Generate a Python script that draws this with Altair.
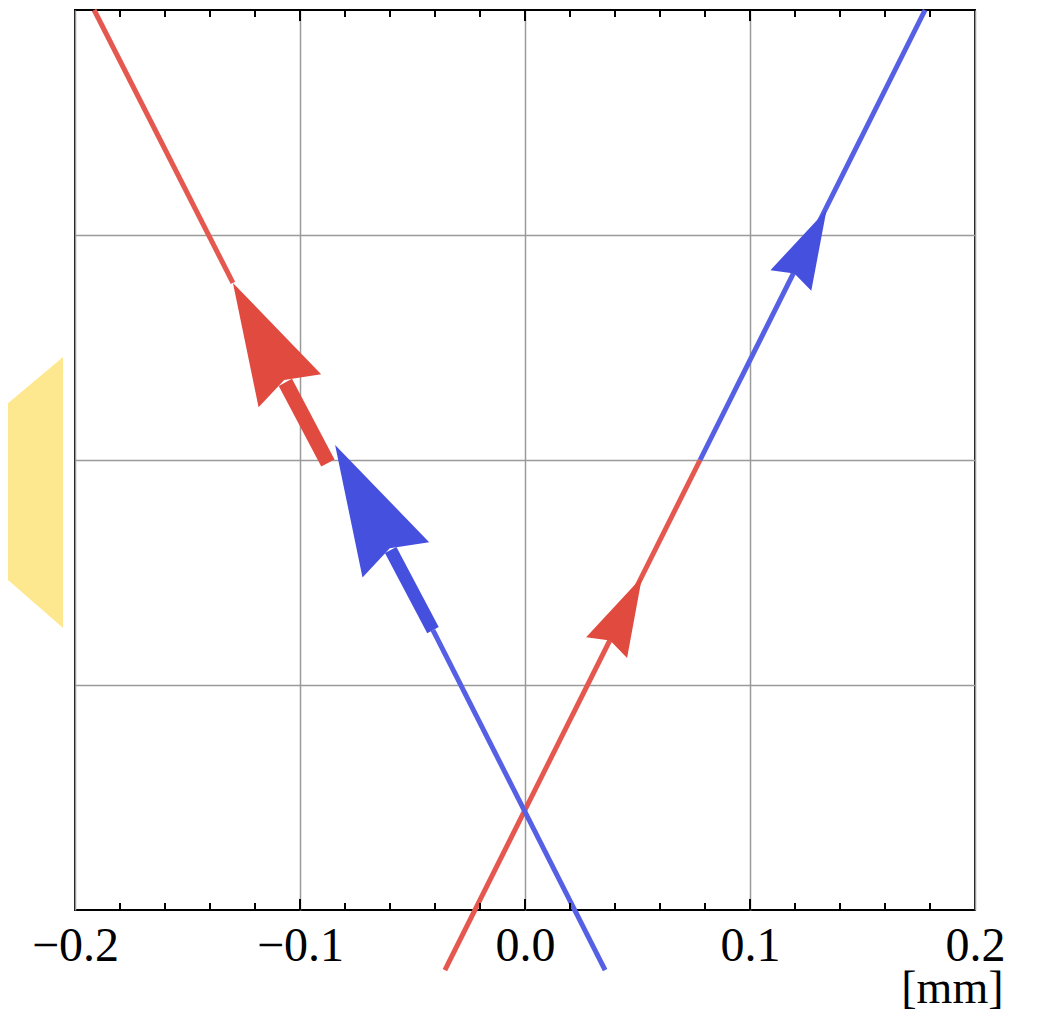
import math
import altair as alt
import pandas as pd

# ---------------- data (values in mm) ----------------
x_tick_labels = [-0.2, -0.1, 0.0, 0.1, 0.2]
x_major_ticks = [-0.1, 0.0, 0.1]
x_minor_ticks = [-0.18, -0.16, -0.14, -0.12, -0.08, -0.06, -0.04, -0.02,
                 0.02, 0.04, 0.06, 0.08, 0.12, 0.14, 0.16, 0.18]
y_grid = [0.1, 0.2, 0.3]

# thin beam segments
beam_names = ["red_in", "blue_out", "blue_in", "red_out"]
beam_x0 = [-0.0356, 0.0778, 0.0356, -0.1298]
beam_y0 = [-0.0267, 0.2000, -0.0267, 0.2787]
beam_x1 = [0.0778, 0.1778, -0.0409, -0.1915]
beam_y1 = [0.2000, 0.4000, 0.1244, 0.4000]
beam_col = ["red", "blue", "blue", "red"]

# thick arrow shafts
shaft_names = ["red", "blue"]
shaft_tail_x = [-0.0876, -0.0409]
shaft_tail_y = [0.1987, 0.1244]
shaft_neck_x = [-0.1065, -0.0597]
shaft_neck_y = [0.2345, 0.1600]

# arrowheads (tip, and a point behind it on the same beam)
head_names = ["red_thin", "blue_thin", "red_thick", "blue_thick"]
head_tip_x = [0.0520, 0.1340, -0.1298, -0.0844]
head_tip_y = [0.1480, 0.3111, 0.2787, 0.2067]
head_from_x = [-0.0356, 0.0778, -0.0876, -0.0409]
head_from_y = [-0.0267, 0.2000, 0.1987, 0.1244]
head_col = ["red", "blue", "red", "blue"]

# yellow lens outline (outside the frame, left)
lens_x = [-0.2333, -0.2053]
lens_y_lo = [0.1498, 0.1253]
lens_y_hi = [0.2222, 0.2458]

# ---------------- styles ----------------
LINE_COL = {"red": "#E5584F", "blue": "#5560E4"}
HEAD_COL = {"red": "#E14A3F", "blue": "#4650DF"}
HEAD_LEN = [79, 79, 122, 130]
SHAFT_W = {"red": 15, "blue": 13}
HEAD_PATH = "M0,0L0.58,2L0,1.8L-0.58,2Z"
GRID = "#9a9a9a"
FONT = "Liberation Serif"

# ---------------- tables ----------------
beam_rows = []
for i, n in enumerate(beam_names):
    beam_rows.append(dict(beam=n, i=0, x=beam_x0[i], y=beam_y0[i], c=LINE_COL[beam_col[i]]))
    beam_rows.append(dict(beam=n, i=1, x=beam_x1[i], y=beam_y1[i], c=LINE_COL[beam_col[i]]))
beams = pd.DataFrame(beam_rows)

shaft_rows = []
for i, n in enumerate(shaft_names):
    shaft_rows.append(dict(s=n, i=0, x=shaft_tail_x[i], y=shaft_tail_y[i], w=SHAFT_W[n], c=HEAD_COL[n]))
    shaft_rows.append(dict(s=n, i=1, x=shaft_neck_x[i], y=shaft_neck_y[i], w=SHAFT_W[n], c=HEAD_COL[n]))
shafts = pd.DataFrame(shaft_rows)

head_rows = []
for i, n in enumerate(head_names):
    dx = head_tip_x[i] - head_from_x[i]
    dy = head_tip_y[i] - head_from_y[i]
    ang = math.degrees(math.atan2(dx, dy)) % 360
    head_rows.append(dict(h=n, x=head_tip_x[i], y=head_tip_y[i], a=ang,
                          s=HEAD_LEN[i] ** 2, c=HEAD_COL[head_col[i]]))
heads = pd.DataFrame(head_rows)

lens = pd.DataFrame(dict(x=lens_x, lo=lens_y_lo, hi=lens_y_hi))
major = pd.DataFrame(dict(t=x_major_ticks))
minor = pd.DataFrame(dict(t=x_minor_ticks))

# ---------------- scales / axes ----------------
xscale = alt.Scale(domain=[-0.2, 0.2], nice=False, zero=False)
yscale = alt.Scale(domain=[0, 0.4], nice=False, zero=False)
xaxis = alt.Axis(values=x_tick_labels, format=".1f", grid=True, gridColor=GRID,
                 gridWidth=1.5, ticks=False, tickSize=0, domain=False,
                 labelFont=FONT, labelFontSize=48, labelColor="black",
                 labelBaseline="alphabetic", labelPadding=50, labelFlush=False,
                 labelOverlap=False, title="[mm]", titleFont=FONT, titleFontSize=46,
                 titleFontWeight="normal", titleColor="black", titleX=928, titleY=92,
                 titleAlign="right", titleBaseline="alphabetic")
yaxis = alt.Axis(values=y_grid, grid=True, gridColor=GRID, gridWidth=1.5,
                 labels=False, ticks=False, domain=False, title="")


def X(f):
    return alt.X(f, type="quantitative", scale=xscale, axis=xaxis)


def Y(f):
    return alt.Y(f, type="quantitative", scale=yscale, axis=yaxis)


lens_layer = alt.Chart(lens).mark_area(color="#FDE88F", clip=False, opacity=1).encode(
    x=X("x"), y=Y("lo"), y2="hi")

beam_layer = alt.Chart(beams).mark_line(strokeWidth=5, strokeCap="butt", clip=False).encode(
    x=X("x"), y=Y("y"), detail="beam:N", order="i:Q",
    color=alt.Color("c:N", scale=None))

shaft_layer = alt.Chart(shafts).mark_line(strokeCap="butt", clip=False).encode(
    x=X("x"), y=Y("y"), detail="s:N", order="i:Q",
    strokeWidth=alt.StrokeWidth("w:Q", scale=None), color=alt.Color("c:N", scale=None))

head_layer = alt.Chart(heads).mark_point(shape=HEAD_PATH, filled=True, opacity=1,
                                         strokeWidth=0, clip=False).encode(
    x=X("x"), y=Y("y"), angle=alt.Angle("a:Q", scale=None),
    size=alt.Size("s:Q", scale=None), color=alt.Color("c:N", scale=None))

tick_layers = []
for df, L in ((major, 11), (minor, 7)):
    tick_layers.append(alt.Chart(df).mark_rule(color="black", strokeWidth=2).encode(
        x=X("t"), y=alt.value(0), y2=alt.value(L)))
    tick_layers.append(alt.Chart(df).mark_rule(color="black", strokeWidth=2).encode(
        x=X("t"), y=alt.value(900), y2=alt.value(900 - L)))

chart = alt.layer(lens_layer, beam_layer, shaft_layer, head_layer, *tick_layers).properties(
    width=900, height=900,
    autosize=alt.AutoSizeParams(type="none"),
    padding={"left": 67, "top": 2, "right": 50, "bottom": 102},
    background="white",
).configure_view(stroke="black", strokeWidth=2)

chart.save("out.html", embed_options={"renderer": "svg", "actions": False})
